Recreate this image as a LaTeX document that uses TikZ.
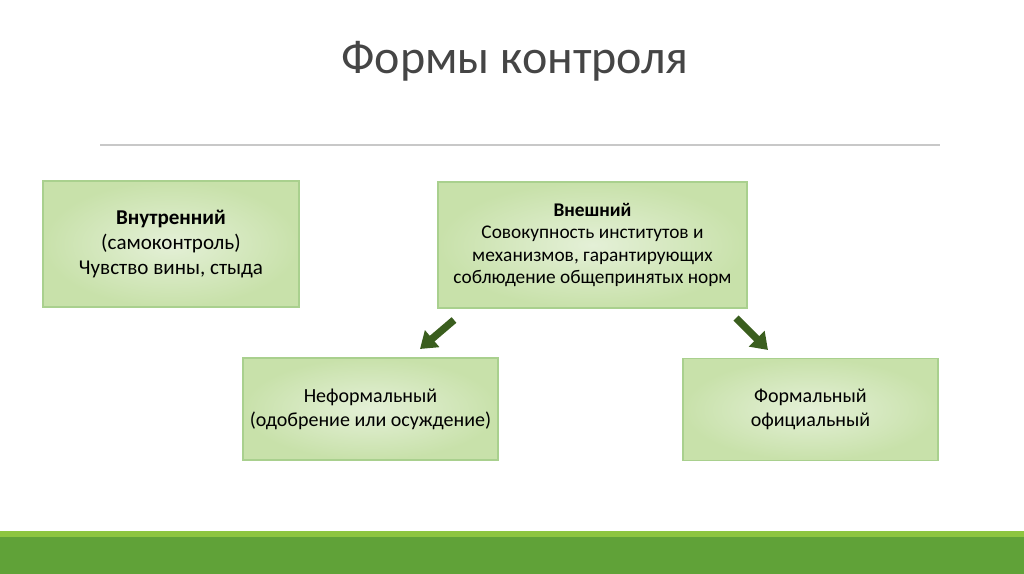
\documentclass[tikz,border=0pt]{standalone}
\usepackage{fontspec}
\setmainfont{Carlito}
\usetikzlibrary{arrows.meta}
\definecolor{boxline}{HTML}{A9D08E}
\definecolor{boxin}{HTML}{E4F0D7}
\definecolor{boxout}{HTML}{C8E1AA}
\definecolor{arrowgreen}{HTML}{3A5E1E}
\definecolor{titlegray}{HTML}{454545}
\definecolor{rulegray}{HTML}{C8C8C8}
\definecolor{barlight}{HTML}{8DC540}
\definecolor{bardark}{HTML}{60A238}
\begin{document}
\begin{tikzpicture}[x=0.75pt, y=-0.75pt,
  box/.style = {draw=boxline, line width=0.9pt, inner color=boxin, outer color=boxout,
                align=center, inner sep=0pt, text=black,
                font=\fontsize{15}{18}\selectfont},
  bigarrow/.style = {draw=arrowgreen, line width=5.5pt,
                     -{Triangle[width=16pt,length=12pt]}}]
\useasboundingbox (0,0) rectangle (1024,574);
\fill[barlight] (0,531) rectangle (1024,537);
\fill[bardark] (0,537) rectangle (1024,574);
\draw[rulegray, line width=0.8pt] (100,145) -- (940,145);
\node[anchor=base, text=titlegray, font=\fontsize{36}{43}\selectfont] (title) at (515,74) {Формы контроля};

\node[box, minimum width=192pt, minimum height=94.5pt,
      font=\fontsize{15.8}{18.5}\selectfont] (inner) at (171,244)
  {\textbf{Внутренний}\\(самоконтроль)\\Чувство вины, стыда};
\node[box, minimum width=231.75pt, minimum height=94.5pt,
      font=\fontsize{14.5}{16.7}\selectfont] (outer) at (592.5,245)
  {\textbf{Внешний}\\Совокупность институтов и\\механизмов, гарантирующих\\соблюдение общепринятых норм};
\node[box, minimum width=191.25pt, minimum height=76.5pt] (informal) at (370.5,409)
  {Неформальный\\(одобрение или осуждение)};
\node[box, minimum width=191.25pt, minimum height=76.5pt] (formal) at (810.5,409.5)
  {Формальный\\официальный};

\coordinate (la) at (454,320);
\coordinate (lb) at (420,349);
\coordinate (ra) at (736,318);
\coordinate (rb) at (768,350);
\draw[bigarrow] (la) -- (lb);
\draw[bigarrow] (ra) -- (rb);

\end{tikzpicture}
\end{document}
